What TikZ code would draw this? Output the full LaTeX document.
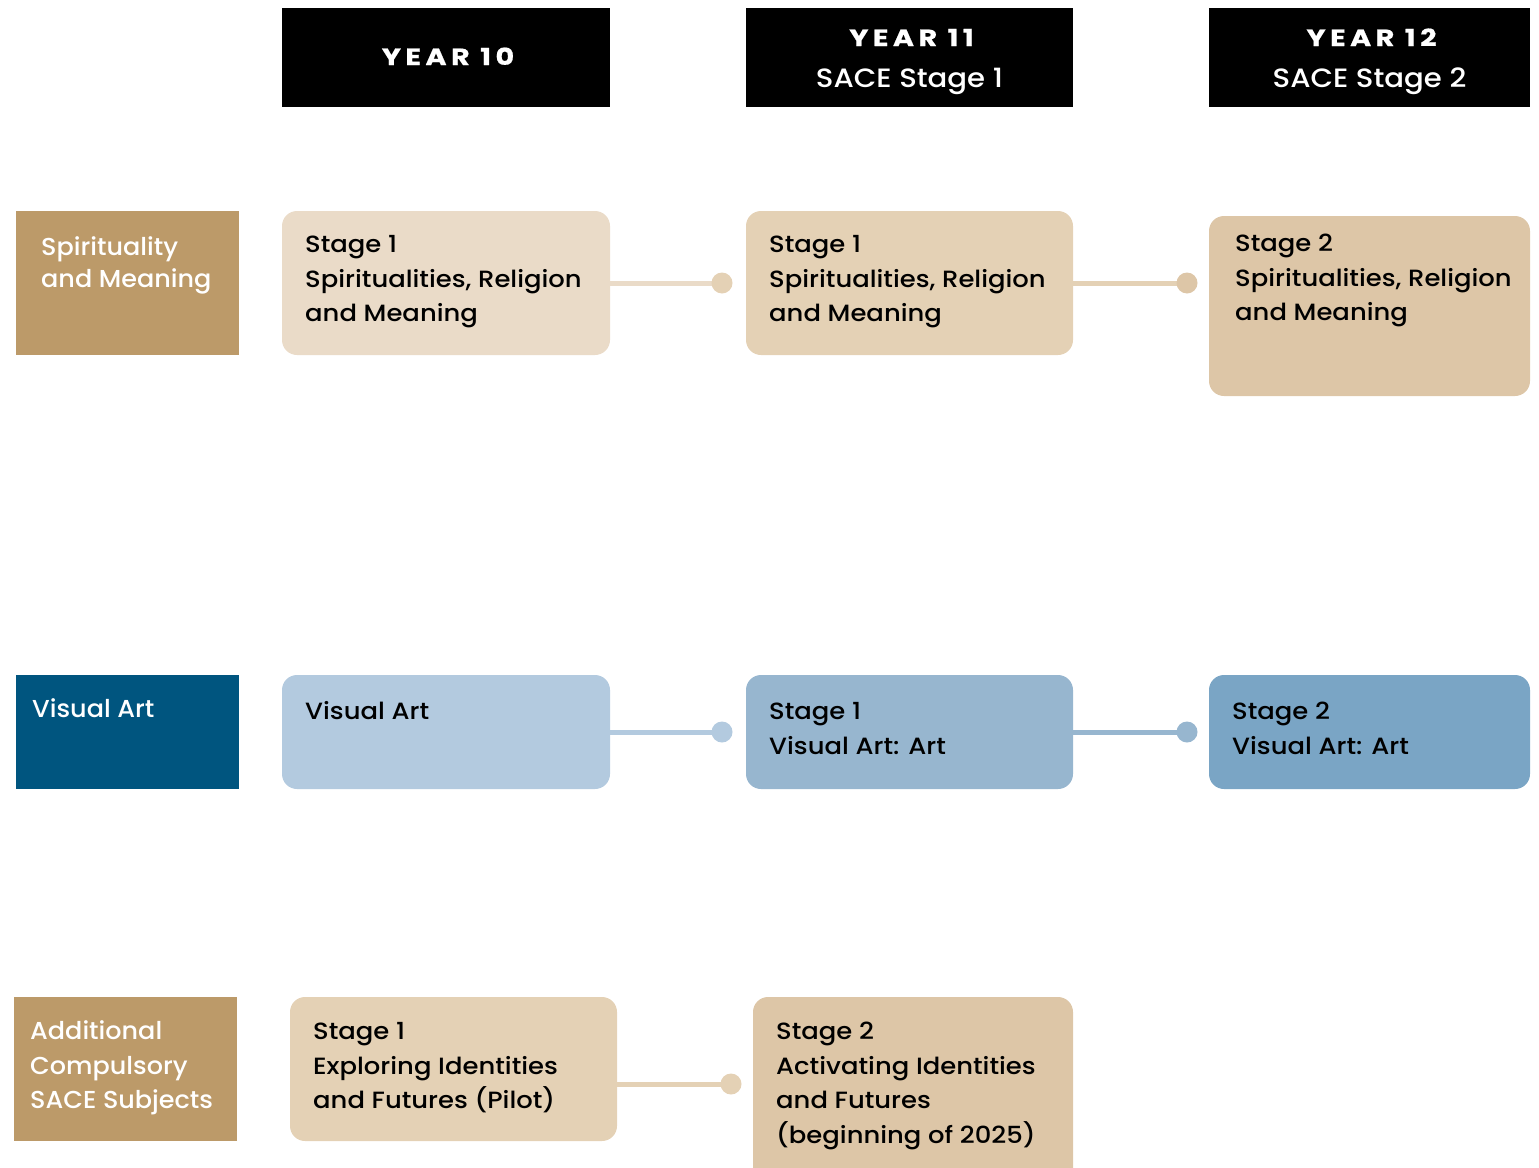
\documentclass[tikz,border=0pt]{standalone}
\usepackage{fontspec}
\setmainfont{Poppins Medium}[FakeStretch=1.10]
\newfontfamily\labfont{Poppins Medium}[FakeStretch=1.04]
\newfontfamily\yearfont{Poppins Bold}[LetterSpace=19,FakeStretch=1.22,FakeBold=0.6]
\newcommand\topln{\rule{0pt}{22pt}}
\definecolor{gold}{HTML}{BC9A69}
\definecolor{sandA}{HTML}{EADBC8}
\definecolor{sandB}{HTML}{E4D1B5}
\definecolor{sandC}{HTML}{DDC6A7}
\definecolor{navy}{HTML}{00557F}
\definecolor{blueA}{HTML}{B3CADF}
\definecolor{blueB}{HTML}{97B6CF}
\definecolor{blueC}{HTML}{7AA5C5}
\tikzset{
  hdr/.style={fill=black, draw=none, inner sep=0, minimum width=#1, minimum height=99pt},
  label/.style={fill=#1, draw=none, inner sep=0, minimum width=223pt},
  course/.style={fill=#1, draw=none, rounded corners=15pt, inner sep=0},
  bodytxt/.style={anchor=north west, inner sep=0, align=left, font=\fontsize{23.5}{34.6}\selectfont, text=black},
  labtxt/.style={anchor=north west, inner sep=0, align=left, font=\labfont\fontsize{24.5}{34.5}\selectfont, text=white},
  yeartxt/.style={anchor=base, inner sep=0, text=white, font=\yearfont\fontsize{23.5}{28}\selectfont},
  sacetxt/.style={anchor=base, inner sep=0, text=white, font=\fontsize{26.5}{30}\selectfont},
  link/.style={line width=5pt, draw=#1},
  dotc/.style={fill=#1, draw=none}
}
\begin{document}
\begin{tikzpicture}[x=1pt,y=-1pt]
\useasboundingbox (0,0) rectangle (1539,1167);
% headers
\node[hdr=328pt] (h10) at (446,57.5) {};
\node[hdr=327pt] (h11) at (909.5,57.5) {};
\node[hdr=321pt] (h12) at (1369.5,57.5) {};
\node[yeartxt] at (448,65) {YEAR 10};
\node[yeartxt] at (911.5,46) {YEAR 11};
\node[sacetxt] at (909.5,87) {SACE Stage 1};
\node[yeartxt] at (1371.5,46) {YEAR 12};
\node[sacetxt] at (1369.5,87) {SACE Stage 2};
% row 1
\node[label=gold, minimum height=144pt] (l1) at (127.5,283) {};
\node[labtxt, font=\labfont\fontsize{24.5}{32.3}\selectfont] at (41,255-22) {\topln Spirituality\\and Meaning};
\node[course=sandA, minimum width=328pt, minimum height=144pt] (a1) at (446,283) {};
\node[course=sandB, minimum width=327pt, minimum height=144pt] (a2) at (909.5,283) {};
\node[course=sandC, minimum width=321pt, minimum height=180pt] (a3) at (1369.5,306) {};
\node[bodytxt] at (305,252.5-22) {\topln Stage 1\\Spiritualities, Religion\\and Meaning};
\node[bodytxt] at (769,252.5-22) {\topln Stage 1\\Spiritualities, Religion\\and Meaning};
\node[bodytxt] at (1235,251.5-22) {\topln Stage 2\\Spiritualities, Religion\\and Meaning};
\coordinate (d1) at (722,283);
\coordinate (d2) at (1187,283);
\draw[link=sandA] (a1.east) -- (d1);
\fill[dotc=sandB] (d1) circle (10.5);
\draw[link=sandB] (a2.east) -- (d2);
\fill[dotc=sandC] (d2) circle (10.5);
% row 2
\node[label=navy, minimum height=114pt] (l2) at (127.5,732) {};
\node[labtxt] at (32,717.5-22) {\topln Visual Art};
\node[course=blueA, minimum width=328pt, minimum height=114pt] (b1) at (446,732) {};
\node[course=blueB, minimum width=327pt, minimum height=114pt] (b2) at (909.5,732) {};
\node[course=blueC, minimum width=321pt, minimum height=114pt] (b3) at (1369.5,732) {};
\node[bodytxt] at (305,719.5-22) {\topln Visual Art};
\node[bodytxt] at (769,719.5-22) {\topln Stage 1\\Visual Art: Art};
\node[bodytxt] at (1232,719.5-22) {\topln Stage 2\\Visual Art: Art};
\coordinate (e1) at (722,732);
\coordinate (e2) at (1187,732);
\draw[link=blueA] (b1.east) -- (e1);
\fill[dotc=blueA] (e1) circle (10.5);
\draw[link=blueB] (b2.east) -- (e2);
\fill[dotc=blueB] (e2) circle (10.5);
% row 3
\node[label=gold, minimum height=144pt] (l3) at (125.5,1069) {};
\node[labtxt] at (30,1039.5-22) {\topln Additional\\Compulsory\\SACE Subjects};
\node[course=sandB, minimum width=327pt, minimum height=144pt] (c1) at (453.5,1069) {};
\node[course=sandC, minimum width=320pt, minimum height=190pt] (c2) at (913,1092) {};
\node[bodytxt] at (313,1039.5-22) {\topln Stage 1\\Exploring Identities\\and Futures (Pilot)};
\node[bodytxt] at (776,1039.5-22) {\topln Stage 2\\Activating Identities\\and Futures\\(beginning of 2025)};
\coordinate (f1) at (731,1084);
\draw[link=sandB] (c1.east |- f1) -- (f1);
\fill[dotc=sandB] (f1) circle (10.5);
\end{tikzpicture}
\end{document}
